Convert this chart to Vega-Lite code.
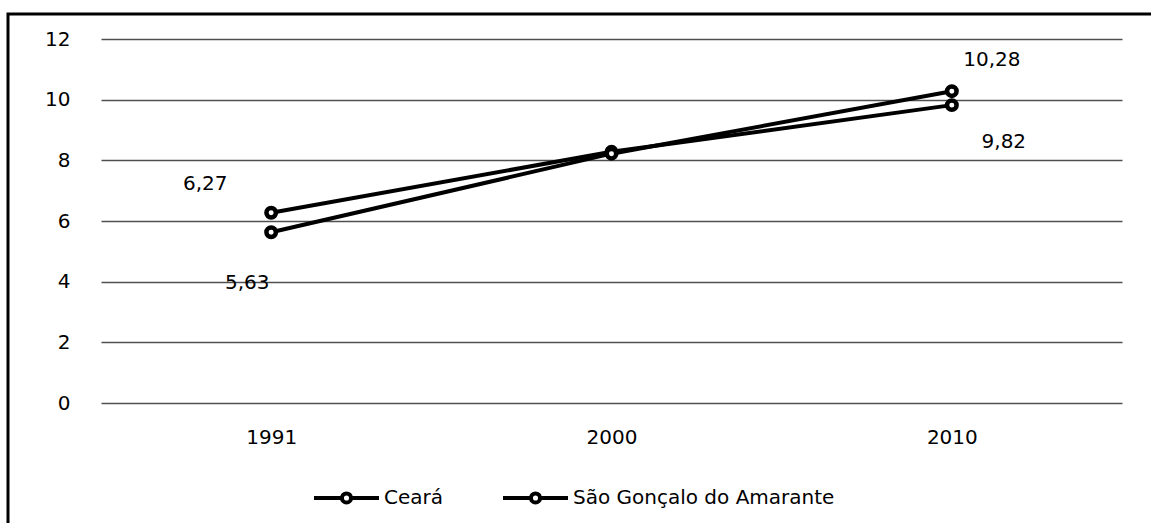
{
  "$schema": "https://vega.github.io/schema/vega-lite/v6.json",
  "autosize": "none",
  "width": 1170,
  "height": 530,
  "padding": {"left": 8, "top": 14, "right": 0, "bottom": 0},
  "background": "white",
  "config": {
    "locale": {"number": {"decimal": ",", "thousands": ".", "grouping": [3], "currency": ["R$", ""]}},
    "view": {"stroke": "black", "strokeWidth": 3},
    "font": "DejaVu Sans",
    "axis": {"labelFont": "DejaVu Sans", "labelFontSize": 20, "labelColor": "black"},
    "legend": {"labelFont": "DejaVu Sans", "labelFontSize": 20, "labelColor": "black"}
  },
  "data": {
    "values": [
      {"ano": "1991", "serie": "Ceará", "valor": 6.27},
      {"ano": "2000", "serie": "Ceará", "valor": 8.28},
      {"ano": "2010", "serie": "Ceará", "valor": 9.82},
      {"ano": "1991", "serie": "São Gonçalo do Amarante", "valor": 5.63},
      {"ano": "2000", "serie": "São Gonçalo do Amarante", "valor": 8.22},
      {"ano": "2010", "serie": "São Gonçalo do Amarante", "valor": 10.28}
    ]
  },
  "encoding": {
    "x": {
      "field": "ano", "type": "ordinal",
      "scale": {"type": "point", "padding": 0.5, "range": [93, 1114]},
      "axis": {"title": null, "orient": "bottom", "offset": -141, "domain": false, "ticks": false, "labelPadding": 24, "labelAngle": 0, "grid": false}
    },
    "y": {
      "field": "valor", "type": "quantitative",
      "scale": {"domain": [0, 12], "range": [389, 25], "nice": false},
      "axis": {"title": null, "orient": "left", "offset": -62, "values": [0, 2, 4, 6, 8, 10, 12], "domain": false, "ticks": false, "labelPadding": 0, "grid": true, "gridColor": "#505050", "gridWidth": 1.5, "gridOpacity": 1}
    }
  },
  "layer": [
    {
      "mark": {"type": "line", "strokeWidth": 4},
      "encoding": {
        "color": {
          "field": "serie", "type": "nominal",
          "scale": {"range": ["black", "black"]},
          "legend": {
            "title": null, "orient": "none", "direction": "horizontal",
            "legendX": 304, "legendY": 449, "padding": 0,
            "symbolType": "M-1,0L-0.14,0M0.14,0L1,0M0.14,0A0.14,0.14,0,1,1,-0.14,0A0.14,0.14,0,1,1,0.14,0",
            "symbolSize": 4225, "symbolStrokeWidth": 4, "symbolFillColor": "white", "symbolStrokeColor": "black",
            "labelOffset": 3, "columnPadding": 51, "labelBaseline": "middle", "labelLimit": 0
          }
        }
      }
    },
    {
      "mark": {"type": "point", "shape": "circle", "filled": true, "fill": "white", "stroke": "black", "strokeWidth": 4.5, "size": 90, "opacity": 1},
      "encoding": {"detail": {"field": "serie"}}
    },
    {
      "transform": [{"filter": "datum.serie === 'Ceará' && datum.ano === '1991'"}],
      "mark": {"type": "text", "fontSize": 20, "dx": -66, "dy": -29, "color": "black"},
      "encoding": {"text": {"field": "valor", "type": "quantitative", "format": ".2f"}}
    },
    {
      "transform": [{"filter": "datum.serie !== 'Ceará' && datum.ano === '1991'"}],
      "mark": {"type": "text", "fontSize": 20, "dx": -24, "dy": 51, "color": "black"},
      "encoding": {"text": {"field": "valor", "type": "quantitative", "format": ".2f"}}
    },
    {
      "transform": [{"filter": "datum.serie !== 'Ceará' && datum.ano === '2010'"}],
      "mark": {"type": "text", "fontSize": 20, "dx": 40, "dy": -31, "color": "black"},
      "encoding": {"text": {"field": "valor", "type": "quantitative", "format": ".2f"}}
    },
    {
      "transform": [{"filter": "datum.serie === 'Ceará' && datum.ano === '2010'"}],
      "mark": {"type": "text", "fontSize": 20, "dx": 52, "dy": 37, "color": "black"},
      "encoding": {"text": {"field": "valor", "type": "quantitative", "format": ".2f"}}
    }
  ]
}
